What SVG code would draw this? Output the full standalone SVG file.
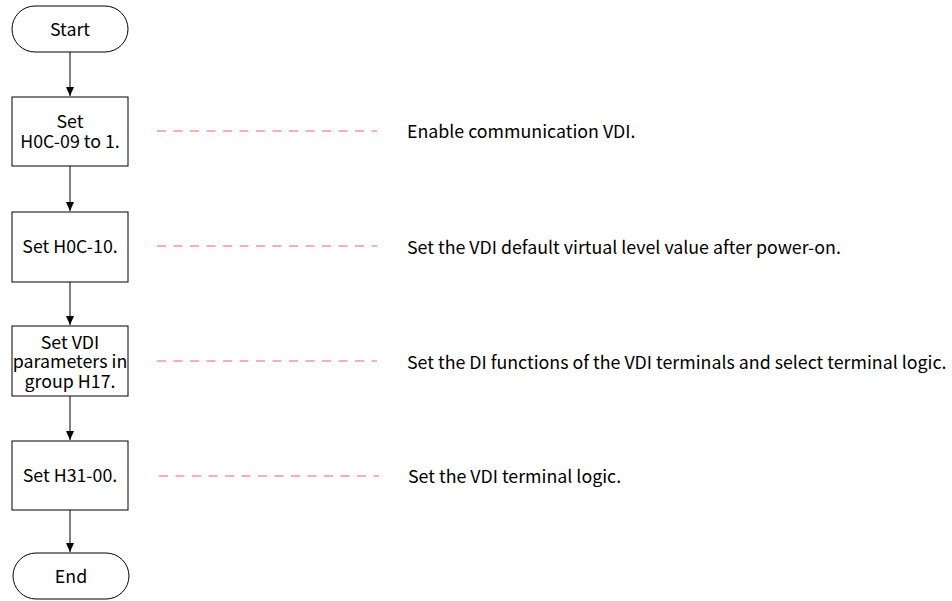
<svg xmlns="http://www.w3.org/2000/svg" width="952" height="601" viewBox="0 0 952 601">
<style>
.n{fill:#fff;stroke:#000;stroke-width:1}
.t{font-family:"Noto Sans CJK SC","Noto Sans",sans-serif;font-size:17.8px;fill:#000}
.c{text-anchor:middle}
.e{stroke:#000;stroke-width:1;fill:none}
.d{stroke:#f06060;stroke-width:1.2;stroke-dasharray:9 7.5;fill:none}
</style>
<defs>
<marker id="ah" markerWidth="10" markerHeight="10" refX="9" refY="5" orient="auto" markerUnits="userSpaceOnUse">
<path d="M0,1 L9,5 L0,9 z" fill="#000"/>
</marker>
</defs>
<g id="connectors">
<path class="e" d="M70,52 V96" marker-end="url(#ah)"/>
<path class="e" d="M70,166 V211" marker-end="url(#ah)"/>
<path class="e" d="M70,282 V325" marker-end="url(#ah)"/>
<path class="e" d="M70,396 V440" marker-end="url(#ah)"/>
<path class="e" d="M70,510 V552" marker-end="url(#ah)"/>
<path class="d" d="M157,131 H377"/>
<path class="d" d="M157,246 H377"/>
<path class="d" d="M157,361 H377"/>
<path class="d" d="M159,476 H379"/>
</g>
<g id="start"><rect class="n" x="12" y="6" width="116" height="46" rx="23"/><text class="t c" x="70" y="35.5">Start</text></g>
<g id="step1"><rect class="n" x="12" y="97" width="116" height="69"/><text class="t c" x="70" y="128">Set</text><text class="t c" x="70" y="147.5">H0C-09 to 1.</text></g>
<g id="step2"><rect class="n" x="12" y="212" width="116" height="70"/><text class="t c" x="70" y="252.5">Set H0C-10.</text></g>
<g id="step3"><rect class="n" x="12" y="326" width="116" height="70"/><text class="t c" x="70" y="349">Set VDI</text><text class="t c" x="70" y="368">parameters in</text><text class="t c" x="70" y="387.5">group H17.</text></g>
<g id="step4"><rect class="n" x="12" y="441" width="116" height="69"/><text class="t c" x="70" y="481.5">Set H31-00.</text></g>
<g id="end"><rect class="n" x="13" y="553" width="116" height="46" rx="23"/><text class="t c" x="71" y="582.5">End</text></g>
<g id="notes">
<text class="t" x="407" y="137.5">Enable communication VDI.</text>
<text class="t" x="407" y="254">Set the VDI default virtual level value after power-on.</text>
<text class="t" x="407" y="368.5">Set the DI functions of the VDI terminals and select terminal logic.</text>
<text class="t" x="408" y="482.5">Set the VDI terminal logic.</text>
</g>
</svg>
